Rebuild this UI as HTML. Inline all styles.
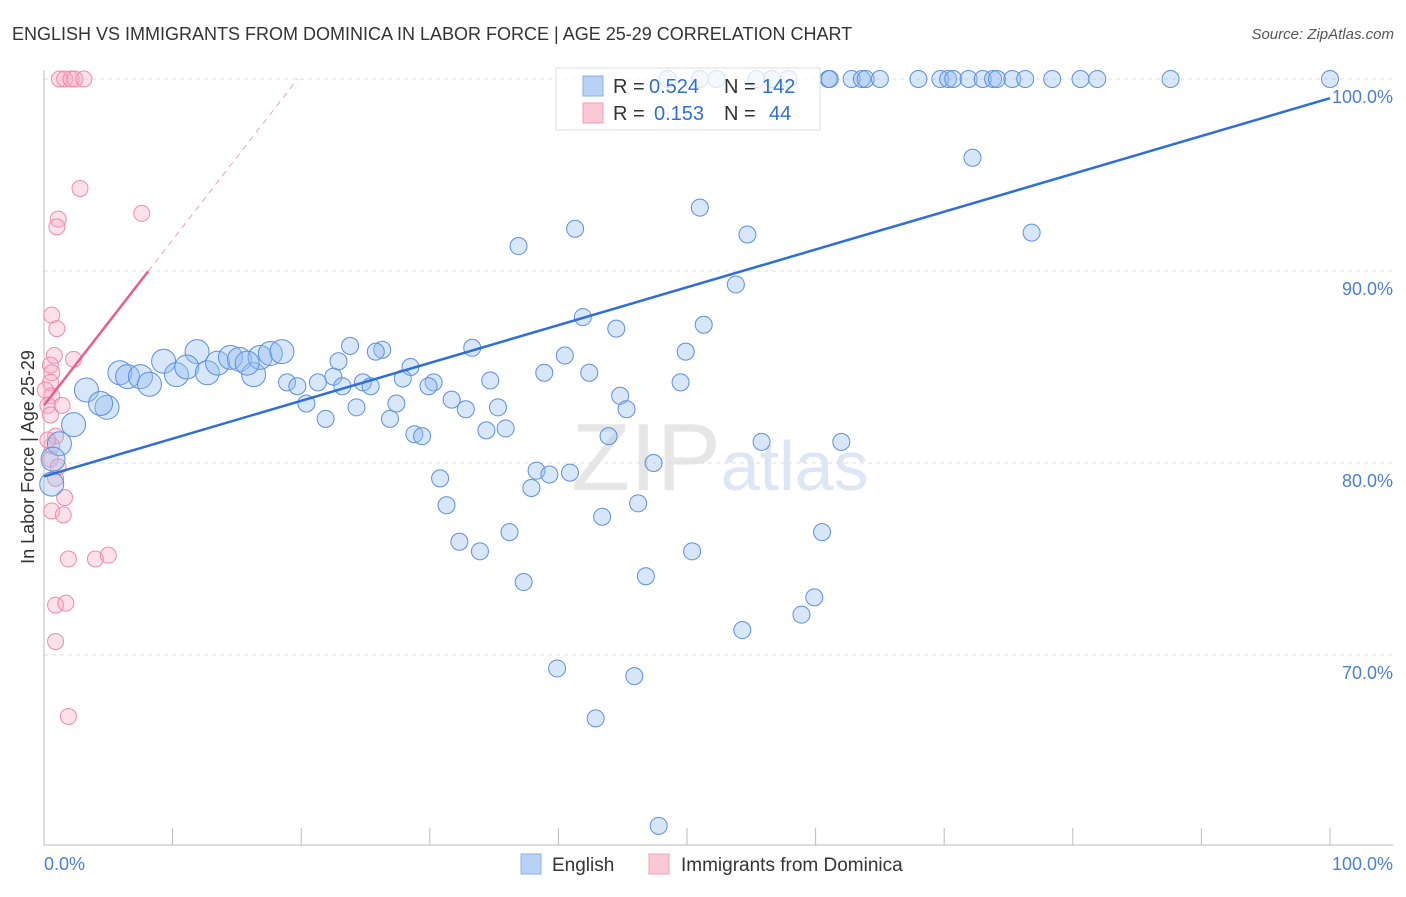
<!DOCTYPE html>
<html><head><meta charset="utf-8"><style>
body{margin:0;background:#fff;font-family:"Liberation Sans",sans-serif}
svg text{font-family:"Liberation Sans",sans-serif}
</style></head><body>
<svg id="c" width="1406" height="892" xmlns="http://www.w3.org/2000/svg">
<text x="12" y="40" font-size="18" fill="#333">ENGLISH VS IMMIGRANTS FROM DOMINICA IN LABOR FORCE | AGE 25-29 CORRELATION CHART</text>
<text x="1394" y="39" font-size="15" fill="#555" text-anchor="end" font-style="italic">Source: ZipAtlas.com</text>
<text x="720" y="490" font-size="96" fill="#e6e6e6" text-anchor="middle" font-family="Liberation Serif">ZIP<tspan fill="#dce6f5" font-family="Liberation Sans" font-size="70">atlas</tspan></text>
<g id="grid"></g><g id="axes"></g><g id="pink"></g><g id="blue"></g><g id="trend"></g>
<text transform="translate(34,457) rotate(-90)" font-size="18" fill="#333" text-anchor="middle">In Labor Force | Age 25-29</text>
<text x="44" y="870" font-size="18" fill="#4a7fd4">0.0%</text>
<text x="1393" y="870" font-size="18" fill="#4a7fd4" text-anchor="end">100.0%</text>
<g>
<rect x="556" y="68" width="264" height="62" fill="rgba(255,255,255,0.75)" stroke="#ddd"/>
<rect x="583" y="76" width="20" height="20" fill="#b8d2f5" stroke="#8ab0e8"/>
<rect x="583" y="103" width="20" height="20" fill="#fcc8d6" stroke="#f0a0b8"/>
<text x="613" y="93" font-size="20" fill="#333">R =</text>
<text x="649" y="93" font-size="20" fill="#2e6fd6">0.524</text>
<text x="724" y="93" font-size="20" fill="#333">N =</text>
<text x="762" y="93" font-size="20" fill="#2e6fd6">142</text>
<text x="613" y="120" font-size="20" fill="#333">R =</text>
<text x="654" y="120" font-size="20" fill="#2e6fd6">0.153</text>
<text x="724" y="120" font-size="20" fill="#333">N =</text>
<text x="769" y="120" font-size="20" fill="#2e6fd6">44</text>
</g>
<g><rect x="521" y="854" width="20" height="20" fill="#b8d2f5" stroke="#8ab0e8"/><text x="552" y="871" font-size="19" fill="#333">English</text></g>
<g><rect x="649" y="854" width="20" height="20" fill="#fcc8d6" stroke="#f0a0b8"/><text x="681" y="871" font-size="19" fill="#333">Immigrants from Dominica</text></g>
</svg>
<script>
const yTicks=[100,90,80,70];
const yTickLabels=["100.0%","90.0%","80.0%","70.0%"];
const xTicks=[0,10,20,30,40,50,60,70,80,90,100];
const blueX=[48.5,51.0,52.3,55.4,56.6,57.9,61.0,61.1,62.8,63.6,63.9,65.0,68.0,69.7,70.3,70.7,71.9,73.0,73.8,74.1,75.3,76.3,78.4,80.6,81.9,87.6,100,
72.2,76.8,51.0,41.3,54.7,36.9,53.8,41.9,51.3,44.5,33.3,23.8,26.3,25.8,49.9,40.5,22.9,28.5,38.9,42.4,24.8,22.5,27.9,30.3,34.7,49.5,18.9,19.7,21.3,23.2,25.4,29.9,44.8,31.7,20.4,27.4,32.8,24.3,35.3,45.3,21.9,26.9,34.4,35.9,28.8,29.4,43.9,55.8,62.0,47.4,38.3,40.9,39.3,30.8,37.9,31.3,46.2,43.4,36.2,60.5,32.3,33.9,50.4,37.3,46.8,59.9,58.9,54.3,39.9,45.9,42.9,47.8,
11.9,9.3,5.9,3.3,4.9,4.4,2.3,1.2,0.7,0.6,6.5,7.5,8.2,10.3,11.1,12.7,13.5,14.5,15.2,16.3,16.8,17.6,18.5,15.8];
const blueY=[100,100,100,100,100,100,100,100,100,100,100,100,100,100,100,100,100,100,100,100,100,100,100,100,100,100,100,
95.9,92.0,93.3,92.2,91.9,91.3,89.3,87.6,87.2,87.0,86.0,86.1,85.9,85.8,85.8,85.6,85.3,85.0,84.7,84.7,84.2,84.5,84.4,84.2,84.3,84.2,84.2,84.0,84.2,84.0,84.0,84.0,83.5,83.3,83.1,83.1,82.8,82.9,82.9,82.8,82.3,82.3,81.7,81.8,81.5,81.4,81.4,81.1,81.1,80.0,79.6,79.5,79.4,79.2,78.7,77.8,77.9,77.2,76.4,76.4,75.9,75.4,75.4,73.8,74.1,73.0,72.1,71.3,69.3,68.9,66.7,61.1,
85.8,85.3,84.7,83.8,82.9,83.1,82.0,81.0,80.2,78.9,84.5,84.5,84.1,84.6,85.0,84.7,85.2,85.5,85.4,84.6,85.5,85.7,85.8,85.2];
const pinkX=[1.2,1.6,2.1,2.4,3.1,2.8,1.1,1.0,7.6,0.6,1.0,0.8,2.3,0.5,0.6,0.5,0.6,0.3,1.4,0.5,0.9,0.6,0.5,0.9,1.6,0.6,1.5,1.9,4.0,5.0,0.9,1.7,0.9,1.9,0.1,0.3,1.1];
const pinkY=[100,100,100,100,100,94.3,92.7,92.3,93.0,87.7,87.0,85.6,85.4,85.1,84.7,84.2,83.5,83.0,83.0,82.5,81.4,80.9,80.2,79.2,78.2,77.5,77.3,75.0,75.0,75.2,72.6,72.7,70.7,66.8,83.8,81.2,79.8];
const blueTrend=[79.3,99.0];
const pinkTrend=[83.0,0.862];
const sx=v=>44+v*12.86, sy=v=>79+(100-v)*19.2;
const NS="http://www.w3.org/2000/svg";
function mk(t,a,p){const e=document.createElementNS(NS,t);for(const k in a)e.setAttribute(k,a[k]);p.appendChild(e);return e;}
const grid=document.getElementById('grid'),axes=document.getElementById('axes');
yTicks.forEach((t,i)=>{
 const l=mk('line',{x1:44,x2:1393,y1:sy(t),y2:sy(t),stroke:'#ddd','stroke-dasharray':'4,4'},grid);
 
 
 const tx=mk('text',{x:1393,y:sy(t)+24,'font-size':18,fill:'#4a7fd4','text-anchor':'end'},grid);
 tx.textContent=yTickLabels[i];
 
 
});
const ya=mk('line',{x1:44,x2:44,y1:70,y2:845,stroke:'#bbb'},axes);


const xa=mk('line',{x1:44,x2:1393,y1:845,y2:845,stroke:'#bbb'},axes);


xTicks.forEach(t=>{const l=mk('line',{x1:sx(t),x2:sx(t),y1:828,y2:845,stroke:'#bbb'},axes);
 
 });
const pg=document.getElementById('pink');
pinkX.forEach((x,i)=>{const c=mk('circle',{cx:sx(x),cy:sy(pinkY[i]),r:8,fill:'rgba(248,170,195,0.35)',stroke:'#f08aa8','stroke-width':1},pg);
 
 });
const bg=document.getElementById('blue');
blueX.forEach((x,i)=>{const big=i>=blueX.length-24;const c=mk('circle',{cx:sx(x),cy:sy(blueY[i]),r:big?12:8.5,fill:'rgba(150,190,240,0.38)',stroke:'#5b90dc','stroke-width':1},bg);
 
 });
const tg=document.getElementById('trend');
const bt=mk('line',{x1:sx(0),y1:sy(blueTrend[0]),x2:sx(100),y2:sy(blueTrend[1]),stroke:'#2e6fd6','stroke-width':2.5},tg);


const pt=mk('line',{x1:sx(0),y1:sy(pinkTrend[0]),x2:sx(8.1),y2:sy(pinkTrend[0]+pinkTrend[1]*8.1),stroke:'#e8608a','stroke-width':2.5},tg);


const xe=(100-pinkTrend[0])/pinkTrend[1];
const pd=mk('line',{x1:sx(8.1),y1:sy(pinkTrend[0]+pinkTrend[1]*8.1),x2:sx(xe),y2:sy(100),stroke:'#f0a0b8','stroke-width':1,'stroke-dasharray':'6,5'},tg);


</script>
</body></html>
